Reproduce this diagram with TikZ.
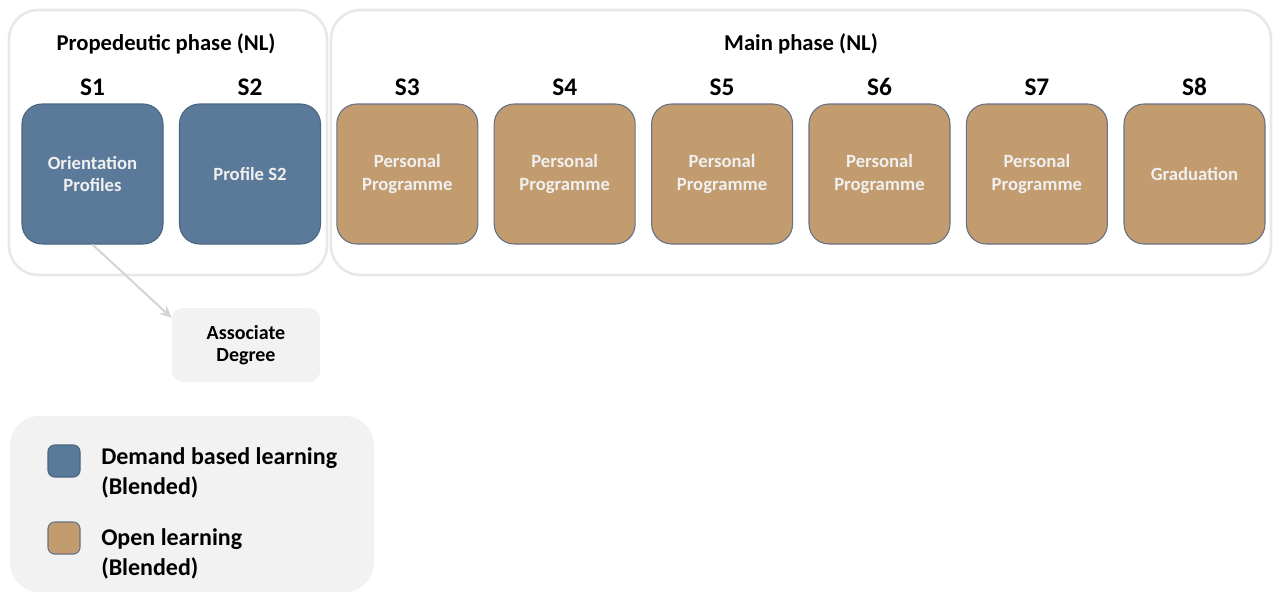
\documentclass[tikz,border=0pt]{standalone}
\usepackage{fontspec}
\setmainfont{Carlito}
\usetikzlibrary{positioning}
\usetikzlibrary{arrows.meta}
\definecolor{demand}{HTML}{5B7A99}
\definecolor{openl}{HTML}{C29B6F}
\definecolor{rim}{HTML}{4A6583}
\definecolor{tanrim}{HTML}{667186}
\definecolor{phaseline}{HTML}{E8E8E8}
\definecolor{panel}{HTML}{F2F2F2}
\definecolor{linkgray}{HTML}{D4D4D4}

\begin{document}
\begin{tikzpicture}[x=0.75pt, y=-0.75pt,
	phase/.style={draw=phaseline, line width=2pt, rounded corners=22pt, inner sep=0pt},
	sem/.style={draw=rim, line width=0.8pt, rounded corners=15pt, minimum width=105.75pt, minimum height=105pt, text=white!94!black, font=\fontsize{14}{17}\selectfont\bfseries, align=center},
	slabel/.style={inner sep=0pt, font=\fontsize{19}{22}\selectfont\bfseries},
	title/.style={inner sep=0pt, font=\fontsize{17}{20}\selectfont\bfseries},
	panelbox/.style={fill=panel, align=center, font=\fontsize{15}{16.5}\selectfont\bfseries},
	swatch/.style={line width=0.8pt, rounded corners=5pt, minimum size=24pt, inner sep=0pt},
	keytext/.style={anchor=west, inner sep=0pt, align=left, font=\fontsize{18}{22.5}\selectfont\bfseries},
	link/.style={draw=linkgray, line width=1.5pt, -{Stealth[length=9pt, width=8pt]}}]
	\useasboundingbox (0,0) rectangle (1282,594);
	% phase containers
	\node[phase, minimum width=238.5pt, minimum height=198.75pt] (prop) at (168,142.5) {};
	\node[phase, minimum width=705pt, minimum height=198.75pt] (main) at (801,142.5) {};
	\node[title] (proptitle) at (166,44) {Propedeutic phase (NL)};
	\node[title] (maintitle) at (801,44) {Main phase (NL)};
	% semesters
	\node[sem, fill=demand] (s1) at (92.5,174) {Orientation\\Profiles};
	\node[sem, fill=demand] (s2) at (250,174) {Profile S2};
	\foreach \i in {3,...,7}
		\node[sem, fill=openl, draw=tanrim] (s\i) at ({92.5+157.4*(\i-1)},174) {Personal\\Programme};
	\node[sem, fill=openl, draw=tanrim] (s8) at (1194.5,174) {Graduation};
	\foreach \i in {1,...,8}
		\node[slabel, above=6pt of s\i] (lab\i) {S\i};
	% exit route
	\node[panelbox, minimum width=111pt, minimum height=55.5pt, rounded corners=8pt] (assoc) at (246,345) {Associate\\Degree};
	\draw[link] (s1.south) -- (assoc.160);
	% legend
	\node[panelbox, minimum width=273pt, minimum height=132pt, rounded corners=22pt] (legend) at (192,504) {};
	\node[swatch, fill=demand, draw=rim] (keyd) at (64,461) {};
	\node[swatch, fill=openl, draw=tanrim] (keyo) at (64,538) {};
	\node[keytext] (keydtext) at (101,473) {Demand based learning\\(Blended)};
	\node[keytext] (keyotext) at (101,554) {Open learning\\(Blended)};
\end{tikzpicture}
\end{document}
